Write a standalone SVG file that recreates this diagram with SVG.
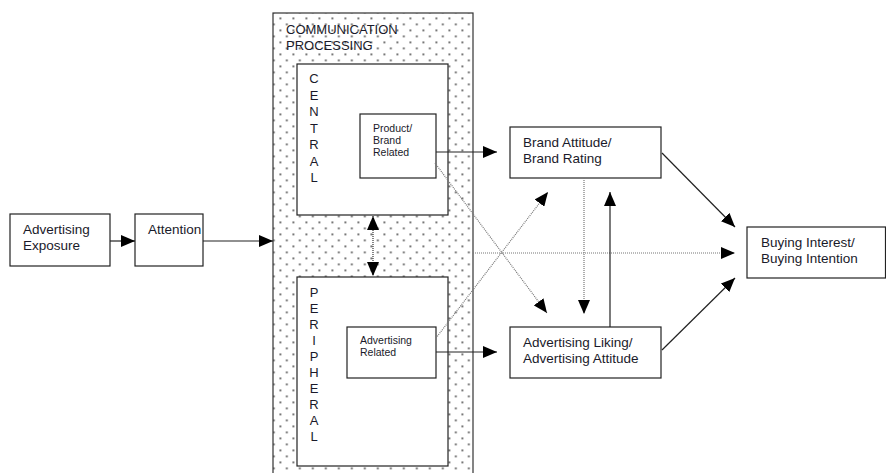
<svg xmlns="http://www.w3.org/2000/svg" width="886" height="473" viewBox="0 0 886 473">
<style>
.box{fill:#fff;stroke:#222;stroke-width:1.2}
.t{font-family:"Liberation Sans",Arial,sans-serif;font-size:13.5px;fill:#1a1a2a}
.s{font-family:"Liberation Sans",Arial,sans-serif;font-size:10.5px;fill:#1a1a2a}
.v{font-family:"Liberation Sans",Arial,sans-serif;font-size:13px;fill:#1a1a2a;text-anchor:middle}
.solid{stroke:#222;stroke-width:1.2;fill:none}
.dot{stroke:#777;stroke-width:1.2;stroke-dasharray:1 1;fill:none}
</style>
<defs>
<pattern id="dots" width="13" height="12" patternUnits="userSpaceOnUse" x="279.5" y="221.5">
<rect x="0" y="0" width="1.7" height="1.7" fill="#444"/>
<rect x="6.5" y="6" width="1.7" height="1.7" fill="#444"/>
</pattern>
<marker id="ah" markerUnits="userSpaceOnUse" markerWidth="14" markerHeight="12" refX="14" refY="6" orient="auto-start-reverse" viewBox="0 0 14 12">
<path d="M0,0 L14,6 L0,12 z" fill="#000"/>
</marker>
</defs>
<rect width="886" height="473" fill="#fff"/>

<g id="comm-processing">
<rect x="273" y="13" width="200" height="470" fill="url(#dots)" stroke="#333" stroke-width="1.2"/>
<text class="t" x="286" y="34" style="font-size:13px">COMMUNICATION</text>
<text class="t" x="286" y="50" style="font-size:13px">PROCESSING</text>
</g>

<g id="central">
<rect class="box" x="297" y="64" width="151" height="151"/>
<text class="v" x="314" y="83">C</text>
<text class="v" x="314" y="99.5">E</text>
<text class="v" x="314" y="116">N</text>
<text class="v" x="314" y="132.5">T</text>
<text class="v" x="314" y="149">R</text>
<text class="v" x="314" y="165.5">A</text>
<text class="v" x="314" y="182">L</text>
</g>

<g id="peripheral">
<rect class="box" x="297" y="277" width="151" height="189"/>
<text class="v" x="314" y="297">P</text>
<text class="v" x="314" y="313">E</text>
<text class="v" x="314" y="329">R</text>
<text class="v" x="314" y="345">I</text>
<text class="v" x="314" y="361">P</text>
<text class="v" x="314" y="377">H</text>
<text class="v" x="314" y="393">E</text>
<text class="v" x="314" y="409">R</text>
<text class="v" x="314" y="425">A</text>
<text class="v" x="314" y="441">L</text>
</g>

<g id="product-brand">
<rect class="box" x="360" y="114" width="76" height="64"/>
<text class="s" x="373" y="132">Product/</text>
<text class="s" x="373" y="144">Brand</text>
<text class="s" x="373" y="156">Related</text>
</g>

<g id="advertising-related">
<rect class="box" x="347" y="327" width="89" height="51"/>
<text class="s" x="360" y="344">Advertising</text>
<text class="s" x="360" y="356">Related</text>
</g>

<g id="ad-exposure">
<rect class="box" x="10" y="214" width="100" height="52"/>
<text class="t" x="23" y="234">Advertising</text>
<text class="t" x="23" y="250">Exposure</text>
</g>

<g id="attention">
<rect class="box" x="135" y="214" width="68" height="52"/>
<text class="t" x="148" y="234">Attention</text>
</g>

<g id="brand-attitude">
<rect class="box" x="510" y="127" width="151" height="51"/>
<text class="t" x="523" y="147">Brand Attitude/</text>
<text class="t" x="523" y="163">Brand Rating</text>
</g>

<g id="ad-liking">
<rect class="box" x="510" y="327" width="151" height="51"/>
<text class="t" x="523" y="347">Advertising Liking/</text>
<text class="t" x="523" y="363">Advertising Attitude</text>
</g>

<g id="buying">
<rect class="box" x="747" y="227" width="138.5" height="51"/>
<text class="t" x="761" y="247">Buying Interest/</text>
<text class="t" x="761" y="263">Buying Intention</text>
</g>

<g id="connectors">
<line class="solid" x1="110" y1="241" x2="135" y2="241" marker-end="url(#ah)"/>
<line class="solid" x1="203" y1="241" x2="273" y2="241" marker-end="url(#ah)"/>
<line class="dot" x1="373" y1="216" x2="373" y2="276" style="stroke:#333" marker-start="url(#ah)" marker-end="url(#ah)"/>
<line class="solid" x1="436" y1="152" x2="497" y2="152" marker-end="url(#ah)"/>
<line class="solid" x1="436" y1="352" x2="497" y2="352" marker-end="url(#ah)"/>
<line class="dot" x1="435" y1="163" x2="547" y2="313" marker-end="url(#ah)"/>
<line class="dot" x1="436" y1="338" x2="548" y2="192" marker-end="url(#ah)"/>
<line class="dot" x1="473" y1="253" x2="735" y2="253" marker-end="url(#ah)"/>
<line class="dot" x1="584" y1="178" x2="584" y2="314" marker-end="url(#ah)"/>
<line class="solid" x1="610" y1="327" x2="610" y2="192" marker-end="url(#ah)"/>
<line class="solid" x1="662" y1="153" x2="735" y2="227" marker-end="url(#ah)"/>
<line class="solid" x1="662" y1="350" x2="735" y2="278" marker-end="url(#ah)"/>
</g>
</svg>
